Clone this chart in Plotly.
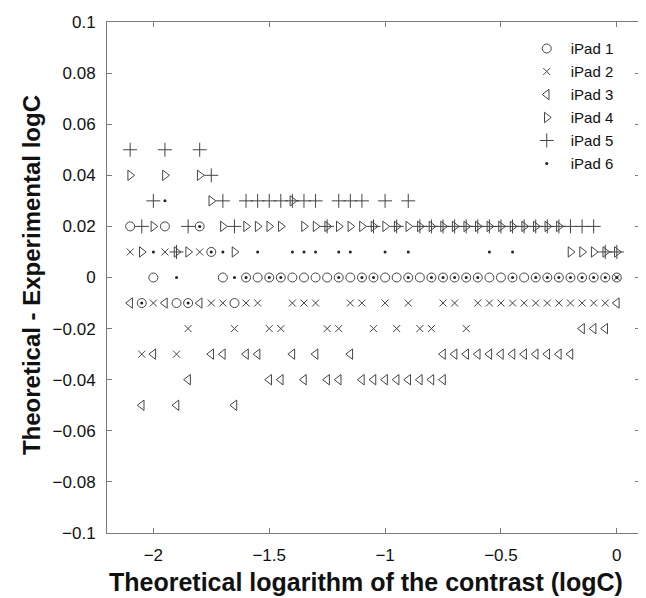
import plotly.graph_objects as go

# ---- data (x = theoretical logC, y = theoretical - experimental logC) ----
ipad1_x = [-2.1, -1.95, -1.8,
           -1.75,
           -2.0, -1.7, -1.6, -1.55, -1.5, -1.45, -1.4, -1.35, -1.3, -1.25, -1.2, -1.15, -1.1,
           -1.05, -1.0, -0.95, -0.9, -0.85, -0.8, -0.75, -0.7, -0.65, -0.6, -0.55, -0.5,
           -0.45, -0.4, -0.35, -0.3, -0.25, -0.2, -0.15, -0.1, -0.05, 0.0,
           -2.05, -1.9, -1.85, -1.65]
ipad1_y = [0.02, 0.02, 0.02,
           0.01,
           0, 0, 0, 0, 0, 0, 0, 0, 0, 0, 0, 0, 0,
           0, 0, 0, 0, 0, 0, 0, 0, 0, 0, 0, 0,
           0, 0, 0, 0, 0, 0, 0, 0, 0, 0,
           -0.01, -0.01, -0.01, -0.01]

ipad2_x = [-2.1, -1.95, -1.8,
           0.0,
           -2.0, -1.75, -1.7, -1.6, -1.55, -1.4, -1.35, -1.3, -1.15, -1.1, -1.0, -0.9,
           -0.75, -0.7, -0.6, -0.55, -0.5, -0.45, -0.4, -0.35, -0.3, -0.25, -0.2, -0.15,
           -0.1, -0.05,
           -1.85, -1.65, -1.5, -1.45, -1.25, -1.2, -1.05, -0.95, -0.85, -0.8, -0.65,
           -2.05, -1.9]
ipad2_y = [0.01, 0.01, 0.01,
           0,
           -0.01, -0.01, -0.01, -0.01, -0.01, -0.01, -0.01, -0.01, -0.01, -0.01, -0.01, -0.01,
           -0.01, -0.01, -0.01, -0.01, -0.01, -0.01, -0.01, -0.01, -0.01, -0.01, -0.01, -0.01,
           -0.01, -0.01,
           -0.02, -0.02, -0.02, -0.02, -0.02, -0.02, -0.02, -0.02, -0.02, -0.02, -0.02,
           -0.03, -0.03]

ipad3_x = [-2.1, -1.95, -1.8, 0.0,
           -0.15, -0.1, -0.05,
           -2.0, -1.75, -1.7, -1.6, -1.55, -1.4, -1.3, -1.15,
           -0.75, -0.7, -0.65, -0.6, -0.55, -0.5, -0.45, -0.4, -0.35, -0.3, -0.25, -0.2,
           -1.85, -1.5, -1.45, -1.35, -1.25, -1.2,
           -1.1, -1.05, -1.0, -0.95, -0.9, -0.85, -0.8, -0.75,
           -2.05, -1.9, -1.65]
ipad3_y = [-0.01, -0.01, -0.01, -0.01,
           -0.02, -0.02, -0.02,
           -0.03, -0.03, -0.03, -0.03, -0.03, -0.03, -0.03, -0.03,
           -0.03, -0.03, -0.03, -0.03, -0.03, -0.03, -0.03, -0.03, -0.03, -0.03, -0.03, -0.03,
           -0.04, -0.04, -0.04, -0.04, -0.04, -0.04,
           -0.04, -0.04, -0.04, -0.04, -0.04, -0.04, -0.04, -0.04,
           -0.05, -0.05, -0.05]

ipad4_x = [-2.1, -1.95, -1.8,
           -1.75, -1.4,
           -2.0, -1.7, -1.6, -1.55, -1.5, -1.45,
           -1.35, -1.3, -1.25, -1.2, -1.15, -1.1, -1.05, -1.0, -0.95, -0.9, -0.85, -0.8,
           -0.75, -0.7, -0.65, -0.6, -0.55, -0.5, -0.45, -0.4, -0.35, -0.3, -0.25,
           -2.05, -1.9, -1.85, -1.65, -0.2, -0.15, -0.1, -0.05, 0.0]
ipad4_y = [0.04, 0.04, 0.04,
           0.03, 0.03,
           0.02, 0.02, 0.02, 0.02, 0.02, 0.02,
           0.02, 0.02, 0.02, 0.02, 0.02, 0.02, 0.02, 0.02, 0.02, 0.02, 0.02, 0.02,
           0.02, 0.02, 0.02, 0.02, 0.02, 0.02, 0.02, 0.02, 0.02, 0.02, 0.02,
           0.01, 0.01, 0.01, 0.01, 0.01, 0.01, 0.01, 0.01, 0.01]

ipad5_x = [-2.1, -1.95, -1.8,
           -1.75,
           -2.0, -1.7, -1.6, -1.55, -1.5, -1.45, -1.4, -1.35, -1.3, -1.2, -1.15, -1.1, -1.0, -0.9,
           -2.05, -1.85, -1.65, -1.25, -1.05, -0.95, -0.85, -0.8, -0.75, -0.7, -0.65, -0.6,
           -0.55, -0.5, -0.45, -0.4, -0.35, -0.3, -0.25, -0.2, -0.15, -0.1,
           -1.9, -0.05, 0.0]
ipad5_y = [0.05, 0.05, 0.05,
           0.04,
           0.03, 0.03, 0.03, 0.03, 0.03, 0.03, 0.03, 0.03, 0.03, 0.03, 0.03, 0.03, 0.03, 0.03,
           0.02, 0.02, 0.02, 0.02, 0.02, 0.02, 0.02, 0.02, 0.02, 0.02, 0.02, 0.02,
           0.02, 0.02, 0.02, 0.02, 0.02, 0.02, 0.02, 0.02, 0.02, 0.02,
           0.01, 0.01, 0.01]

ipad6_x = [-1.95,
           -1.8,
           -2.0, -1.75, -1.7, -1.55, -1.4, -1.35, -1.3, -1.2, -1.15, -1.0, -0.9, -0.55, -0.45,
           -1.9, -1.65, -1.6, -1.5, -1.45, -1.2, -1.1, -1.05, -0.9, -0.8, -0.75, -0.7, -0.65,
           -0.6, -0.45, -0.35, -0.3, -0.25, -0.2, -0.15, -0.1, -0.05, 0.0,
           -2.05, -1.85]
ipad6_y = [0.03,
           0.02,
           0.01, 0.01, 0.01, 0.01, 0.01, 0.01, 0.01, 0.01, 0.01, 0.01, 0.01, 0.01, 0.01,
           0, 0, 0, 0, 0, 0, 0, 0, 0, 0, 0, 0, 0,
           0, 0, 0, 0, 0, 0, 0, 0, 0, 0,
           -0.01, -0.01]

series_names = ["iPad 1", "iPad 2", "iPad 3", "iPad 4", "iPad 5", "iPad 6"]
x_ticks = [-2, -1.5, -1, -0.5, 0]
x_tick_text = ["\u22122", "\u22121.5", "\u22121", "\u22120.5", "0"]
y_ticks = [0.1, 0.08, 0.06, 0.04, 0.02, 0, -0.02, -0.04, -0.06, -0.08, -0.1]
y_tick_text = ["0.1", "0.08", "0.06", "0.04", "0.02", "0", "\u22120.02", "\u22120.04",
               "\u22120.06", "\u22120.08", "\u22120.1"]
x_title = "Theoretical logarithm of the contrast (logC)"
y_title = "Theoretical - Experimental logC"

# ---- styling ----
MC = "#444444"
styles = [
    dict(symbol="circle-open", size=9, color=MC, line=dict(color=MC, width=1)),
    dict(symbol="x-thin-open", size=7, color=MC, line=dict(color=MC, width=1)),
    dict(symbol="triangle-left-open", size=9, color=MC, line=dict(color=MC, width=1)),
    dict(symbol="triangle-right-open", size=9, color=MC, line=dict(color=MC, width=1)),
    dict(symbol="cross-thin-open", size=10, color=MC, line=dict(color=MC, width=1)),
    dict(symbol="circle", size=3, color="#222222", line=dict(width=0)),
]
xs = [ipad1_x, ipad2_x, ipad3_x, ipad4_x, ipad5_x, ipad6_x]
ys = [ipad1_y, ipad2_y, ipad3_y, ipad4_y, ipad5_y, ipad6_y]

fig = go.Figure()
for name, x, y, st in zip(series_names, xs, ys, styles):
    fig.add_trace(go.Scatter(x=x, y=y, mode="markers", name=name, marker=st,
                             legendgroup=name))

FONT = "Liberation Sans, Arial, sans-serif"
axis_common = dict(showgrid=False, zeroline=False, showline=True, linecolor="#7a7a7a",
                   linewidth=1, mirror="ticks", ticks="inside", ticklen=5,
                   tickcolor="#7a7a7a", ticklabelstandoff=7, ticklabeloverflow="allow",
                   tickfont=dict(family=FONT, size=17, color="#111"))
# the page body has an 8px default margin, so the figure is sized to fit the window
fig.update_layout(
    width=638, height=590,
    paper_bgcolor="white", plot_bgcolor="white",
    margin=dict(l=99, r=5, t=9, b=65),
    font=dict(family=FONT, color="#111"),
    xaxis=dict(range=[-2.2, 0.1], tickvals=x_ticks, ticktext=x_tick_text, **axis_common),
    yaxis=dict(range=[-0.1, 0.1], tickvals=y_ticks, ticktext=y_tick_text, **axis_common),
    legend=dict(x=0.78, y=0.98, xanchor="left", yanchor="top",
                bgcolor="rgba(255,255,255,0)", borderwidth=0,
                font=dict(family=FONT, size=15, color="#111"), tracegroupgap=0.5,
                itemwidth=38),
    showlegend=True,
    annotations=[
        dict(text="<b>" + x_title + "</b>", xref="paper", yref="paper",
             x=0.485, y=-0.095, xanchor="center", yanchor="middle", showarrow=False,
             font=dict(family=FONT, size=25, color="#111")),
        dict(text="<b>" + y_title + "</b>", xref="paper", yref="paper",
             x=-0.1404, y=0.505, xanchor="center", yanchor="middle", showarrow=False,
             textangle=-90, font=dict(family=FONT, size=24, color="#111")),
    ],
)
fig.write_html("out.html")
